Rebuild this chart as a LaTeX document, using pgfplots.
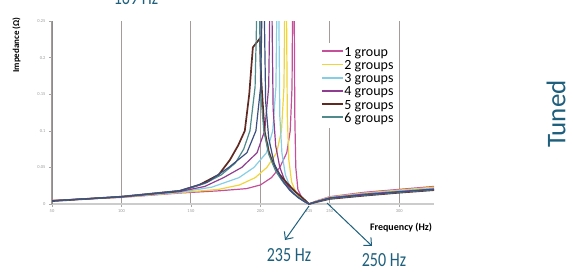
\documentclass[border=0pt]{standalone}
\usepackage{fontspec}
\setmainfont{Carlito}
\newfontfamily\condfont[FakeStretch=0.8]{Carlito}
\usepackage{pgfplots}
\pgfplotsset{compat=1.18}
\usetikzlibrary{arrows.meta}
\definecolor{cA}{HTML}{C4509A}
\definecolor{cB}{HTML}{F0D43C}
\definecolor{cC}{HTML}{86CDE6}
\definecolor{cD}{HTML}{8E3D91}
\definecolor{cE}{HTML}{5E2A22}
\definecolor{cF}{HTML}{4F8A8C}
\definecolor{cG}{HTML}{3C4F80}
\definecolor{annot}{HTML}{1D5F7C}
\definecolor{gridc}{HTML}{A39C97}
\definecolor{ticklab}{HTML}{9A9A9A}
\begin{document}
\begin{tikzpicture}
\path[use as bounding box] (0pt,0pt) rectangle (573pt,271pt);
\clip (0pt,0pt) rectangle (573pt,271pt);
\begin{axis}[
  at={(52pt,67pt)}, anchor=south west,
  scale only axis, width=382pt, height=183pt,
  xmin=50, xmax=325, ymin=0, ymax=0.25,
  axis x line*=bottom, axis y line*=left,
  x axis line style={draw=black!20, line width=1.4pt},
  y axis line style={draw=black!45, line width=0.9pt},
  xtick={50,100,150,200,250,300},
  xticklabels={50,100,150,200,250,300},
  ytick={0,0.05,0.1,0.15,0.2,0.25},
  yticklabels={0,0.05,0.1,0.15,0.2,0.25},
  scaled y ticks=false,
  extra x ticks={235},
  extra x tick labels={235},
  extra x tick style={grid=none, tick style={draw=none}, tick label style={text=cyan!50}},
  xmajorgrids, grid style={draw=gridc, line width=1.1pt},
  tick align=outside, major tick length=3pt,
  tick style={draw=black!35, line width=0.6pt},
  /pgf/number format/assume math mode=true,
  x tick label style={font=\fontsize{4.5}{5}\selectfont, text=ticklab, yshift=1pt},
  y tick label style={font=\fontsize{4.5}{5}\selectfont, text=ticklab},
  legend style={at={(0.696,0.880)}, anchor=north west, draw=none, fill=white,
    font=\fontsize{14}{13}\selectfont, inner xsep=3pt, inner ysep=3pt,
    row sep=0pt, cells={anchor=west},
    nodes={inner sep=0.6pt, text height=9.5pt, text depth=2.5pt}},
  legend image code/.code={\draw[#1, line width=1.8pt] (0pt,1.5pt) -- (21pt,1.5pt);},
]
\addplot[cA, line width=1.2pt] coordinates {(50,0.005)(100,0.009)(142,0.015)(170,0.018)(190,0.021)(200,0.026)(208,0.036)(214,0.05)(219,0.07)(221.5,0.1)(222.8,0.16)(223.4,0.32)(224.2,0.32)(224.8,0.12)(225.5,0.05)(227,0.02)(230,0.008)(235,0)(240,0.004)(250,0.01)(275,0.016)(300,0.02)(325,0.024)};
\addlegendentry{1 group}
\addplot[cB, line width=1.2pt] coordinates {(50,0.0048)(100,0.0093)(142,0.0155)(170,0.02)(185,0.026)(196.3,0.036)(204.7,0.05)(211.7,0.07)(215.2,0.1)(217,0.16)(217.8,0.32)(218.6,0.32)(219.4,0.12)(220.5,0.06)(222.5,0.03)(226,0.014)(230,0.006)(235,0)(240,0.0037)(250,0.0095)(275,0.015)(300,0.019)(325,0.023)};
\addlegendentry{2 groups}
\addplot[cC, line width=1.2pt] coordinates {(50,0.0045)(100,0.0095)(142,0.016)(165,0.023)(184.6,0.036)(195.4,0.05)(204.4,0.07)(208.9,0.1)(211.2,0.16)(212.25,0.32)(213,0.32)(214,0.12)(215.5,0.07)(218,0.04)(222,0.02)(227,0.009)(231,0.004)(235,0)(240,0.0034)(250,0.009)(275,0.0142)(300,0.018)(325,0.0215)};
\addlegendentry{3 groups}
\addplot[cD, line width=1.2pt] coordinates {(50,0.0045)(100,0.0098)(142,0.017)(160,0.024)(173.5,0.036)(186.6,0.05)(197.6,0.07)(203.1,0.1)(206,0.16)(207.2,0.32)(208,0.32)(209.2,0.13)(211,0.08)(214,0.05)(218,0.03)(223,0.016)(228,0.008)(232,0.003)(235,0)(240,0.0031)(250,0.0085)(275,0.0135)(300,0.017)(325,0.0205)};
\addlegendentry{4 groups}
\addplot[cE, line width=1.7pt] coordinates {(50,0.004)(100,0.01)(142,0.018)(156,0.026)(170,0.04)(178,0.06)(184,0.08)(188.8,0.1)(192,0.15)(194.6,0.214)(199.6,0.226)(200.6,0.17)(203,0.1)(206,0.072)(209,0.056)(214,0.04)(219,0.029)(225,0.017)(230.6,0.008)(235,0)(240,0.0025)(250,0.007)(275,0.0115)(300,0.0155)(325,0.019)};
\addlegendentry{5 groups}
\addplot[cF, line width=1.2pt] coordinates {(50,0.0042)(100,0.01)(142,0.018)(160,0.028)(172,0.04)(182,0.056)(188,0.075)(192.5,0.1)(196.2,0.16)(198.1,0.32)(198.9,0.32)(200.3,0.15)(202.5,0.1)(206,0.068)(211,0.045)(217,0.028)(224,0.014)(230,0.006)(235,0)(240,0.0027)(250,0.0075)(275,0.012)(300,0.016)(325,0.0195)};
\addlegendentry{6 groups}
\addplot[cG, line width=1.2pt, forget plot] coordinates {(50,0.0043)(100,0.01)(142,0.018)(162,0.03)(177.3,0.05)(190.3,0.07)(196.8,0.1)(200.2,0.16)(201.65,0.32)(202.4,0.32)(203.8,0.14)(206,0.09)(210,0.055)(215,0.035)(221,0.019)(227,0.009)(232,0.003)(235,0)(240,0.0028)(250,0.008)(275,0.0125)(300,0.0165)(325,0.02)};
\end{axis}
\begin{scope}[x=1pt,y=1pt]
\node[text=annot, font=\condfont\fontsize{20}{20}\selectfont] at (289,16) {235 Hz};
\node[text=annot, font=\condfont\fontsize{20}{20}\selectfont] at (384,11) {250 Hz};
\node[text=annot, font=\condfont\fontsize{20}{20}\selectfont] at (136,273.5) {169 Hz};
\draw[annot, line width=1pt, -{Straight Barb[length=6pt,width=11pt]}] (309,65) -- (285,31);
\draw[annot, line width=1pt, -{Straight Barb[length=6pt,width=11pt]}] (327,68) -- (372,25);
\node[text=annot, rotate=90, font=\fontsize{27}{27}\selectfont] at (556,157) {Tuned};
\node[rotate=90, font=\bfseries\fontsize{9}{9}\selectfont] at (16.5,226) {Impedance (Ω)};
\node[font=\bfseries\fontsize{10}{10}\selectfont] at (401,43) {Frequency (Hz)};
\end{scope}
\end{tikzpicture}
\end{document}
